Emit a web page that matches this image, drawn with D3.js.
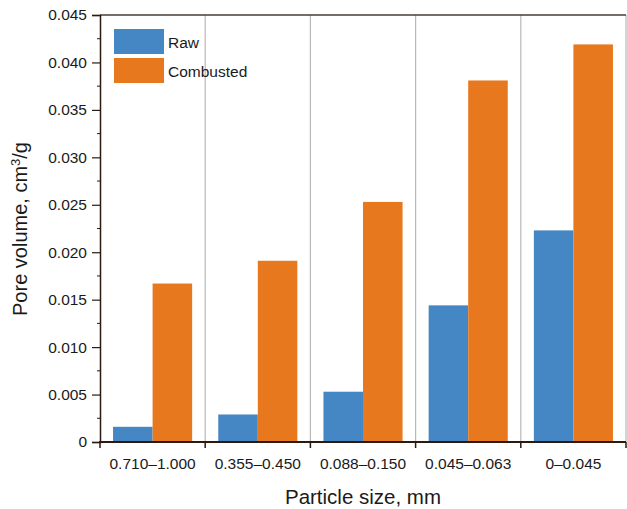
<!DOCTYPE html>
<html lang="en">
	<head>
		<meta charset="utf-8">
		<title>Pore volume by particle size</title>
		<script type="text/javascript" src="https://cdn.jsdelivr.net/npm/d3@7/dist/d3.min.js"></script>
		<style type="text/css">
			body { margin: 0; background: #fff; }
			text { font-family: "Liberation Sans", Arial, sans-serif; fill: #1a1a1a; }
		</style>
	</head>
	<body>
		<script type="text/javascript">

			//Data
			var categories = ["0.710\u20131.000", "0.355\u20130.450", "0.088\u20130.150", "0.045\u20130.063", "0\u20130.045"];
			var raw = [0.0016, 0.0029, 0.0053, 0.0144, 0.0223];
			var combusted = [0.0167, 0.0191, 0.0253, 0.0381, 0.0419];
			var seriesNames = ["Raw", "Combusted"];
			var colors = ["#4586c4", "#e8781e"];
			var yTicks = [0, 0.005, 0.010, 0.015, 0.020, 0.025, 0.030, 0.035, 0.040, 0.045];

			//Width and height
			var w = 627;
			var h = 509;
			var pLeft = 100, pRight = 626, pTop = 15, pBottom = 442;

			var svg = d3.select("body")
						.append("svg")
						.attr("width", w)
						.attr("height", h);

			var xScale = d3.scaleBand()
						.domain(categories)
						.range([pLeft, pRight]);

			var xInner = d3.scaleBand()
						.domain(seriesNames)
						.range([0, xScale.bandwidth()])
						.paddingOuter(0.33)
						.paddingInner(0);

			var yScale = d3.scaleLinear()
						.domain([0, 0.045])
						.range([pBottom, pTop]);

			//Vertical separators between categories
			svg.selectAll("line.sep")
			   .data(categories)
			   .enter()
			   .append("line")
			   .attr("class", "sep")
			   .attr("x1", function(d) { return xScale(d) + xScale.bandwidth(); })
			   .attr("x2", function(d) { return xScale(d) + xScale.bandwidth(); })
			   .attr("y1", pTop)
			   .attr("y2", pBottom)
			   .attr("stroke", "#b8b8b8")
			   .attr("stroke-width", 1.2);

			//Bars
			var groups = svg.selectAll("g.grp")
			   .data(categories)
			   .enter()
			   .append("g")
			   .attr("class", "grp")
			   .attr("transform", function(d) { return "translate(" + xScale(d) + ",0)"; });

			groups.selectAll("rect")
			   .data(function(d, i) {
			   		return [{k: seriesNames[0], v: raw[i], c: colors[0]},
			   		        {k: seriesNames[1], v: combusted[i], c: colors[1]}];
			   })
			   .enter()
			   .append("rect")
			   .attr("x", function(d) { return xInner(d.k); })
			   .attr("y", function(d) { return yScale(d.v); })
			   .attr("width", xInner.bandwidth())
			   .attr("height", function(d) { return pBottom - yScale(d.v); })
			   .attr("fill", function(d) { return d.c; });

			//Top border
			svg.append("line")
			   .attr("x1", pLeft).attr("x2", pRight)
			   .attr("y1", pTop).attr("y2", pTop)
			   .attr("stroke", "#4a3c34")
			   .attr("stroke-width", 1.5);

			//Y axis
			var yAxis = d3.axisLeft(yScale)
						.tickValues(yTicks)
						.tickSize(8)
						.tickPadding(5)
						.tickFormat(function(d) { return d === 0 ? "0" : d3.format(".3f")(d); });

			var gy = svg.append("g")
			   .attr("transform", "translate(" + pLeft + ",0)")
			   .call(yAxis);
			gy.select(".domain").attr("stroke", "#2a1a10").attr("stroke-width", 1.5);
			gy.selectAll(".tick line").attr("stroke", "#2a1a10").attr("stroke-width", 1.2);
			gy.selectAll(".tick text").attr("font-size", "15.5px").attr("font-family", "Liberation Sans, Arial, sans-serif").attr("fill", "#1a1a1a");

			//Minor ticks
			svg.selectAll("line.minor")
			   .data(d3.range(0, 9))
			   .enter()
			   .append("line")
			   .attr("class", "minor")
			   .attr("x1", pLeft - 3).attr("x2", pLeft)
			   .attr("y1", function(d) { return yScale(yTicks[d] + 0.0025); })
			   .attr("y2", function(d) { return yScale(yTicks[d] + 0.0025); })
			   .attr("stroke", "#2a1a10")
			   .attr("stroke-width", 1);

			//X axis
			svg.append("line")
			   .attr("x1", pLeft - 1).attr("x2", pRight)
			   .attr("y1", pBottom).attr("y2", pBottom)
			   .attr("stroke", "#2a1a10")
			   .attr("stroke-width", 2.2);

			svg.selectAll("line.xtick")
			   .data([pLeft].concat(categories.map(function(d) { return xScale(d) + xScale.bandwidth(); })))
			   .enter()
			   .append("line")
			   .attr("class", "xtick")
			   .attr("x1", function(d) { return d; })
			   .attr("x2", function(d) { return d; })
			   .attr("y1", pBottom)
			   .attr("y2", pBottom + 6)
			   .attr("stroke", "#2a1a10")
			   .attr("stroke-width", 1.5);

			svg.selectAll("text.xlab")
			   .data(categories)
			   .enter()
			   .append("text")
			   .attr("class", "xlab")
			   .attr("x", function(d) { return xScale(d) + xScale.bandwidth() / 2; })
			   .attr("y", 469)
			   .attr("text-anchor", "middle")
			   .attr("font-size", "15.5px")
			   .text(function(d) { return d; });

			//Axis titles
			svg.append("text")
			   .attr("x", 363)
			   .attr("y", 504)
			   .attr("text-anchor", "middle")
			   .attr("font-size", "20.5px")
			   .text("Particle size, mm");

			var yt = svg.append("text")
			   .attr("transform", "translate(27,229) rotate(-90)")
			   .attr("text-anchor", "middle")
			   .attr("font-size", "20px");
			yt.append("tspan").text("Pore volume, cm");
			yt.append("tspan").attr("font-size", "13px").attr("dy", -7).text("3");
			yt.append("tspan").attr("dy", 7).text("/g");

			//Legend
			var legend = svg.selectAll("g.leg")
			   .data(seriesNames)
			   .enter()
			   .append("g")
			   .attr("class", "leg")
			   .attr("transform", function(d, i) { return "translate(114," + (29 + i * 29) + ")"; });

			legend.append("rect")
			   .attr("width", 50)
			   .attr("height", 25)
			   .attr("fill", function(d, i) { return colors[i]; });

			legend.append("text")
			   .attr("x", 54)
			   .attr("y", 19)
			   .attr("font-size", "15.5px")
			   .text(function(d) { return d; });

		</script>
	</body>
</html>
